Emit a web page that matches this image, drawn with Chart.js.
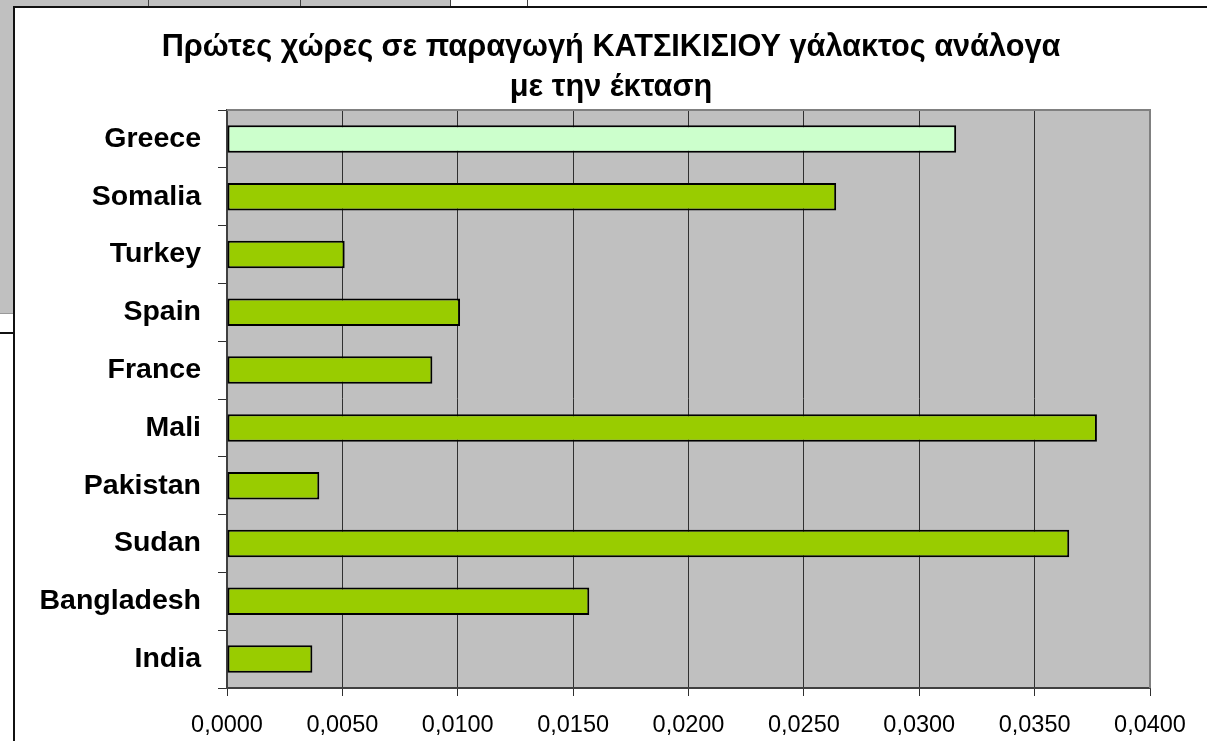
<!DOCTYPE html>
<html>
<head>
<meta charset="utf-8">
<script src="https://cdn.jsdelivr.net/npm/chart.js@4"></script>
<style>
  html, body { margin: 0; padding: 0; background: #ffffff; }
  #wrap { width: 1207px; height: 741px; position: relative; }
</style>
</head>
<body>
<div id="wrap"><canvas id="c" width="1207" height="741"></canvas></div>
<script>
// ---- data ----
const titleLines = ["Πρώτες χώρες σε παραγωγή ΚΑΤΣΙΚΙΣΙΟΥ γάλακτος ανάλογα", "με την έκταση"];
const categories = ["Greece", "Somalia", "Turkey", "Spain", "France", "Mali", "Pakistan", "Sudan", "Bangladesh", "India"];
const values = [0.0316, 0.0264, 0.0051, 0.0101, 0.0089, 0.0377, 0.0040, 0.0365, 0.0157, 0.0037];
const highlighted = "Greece";
const xMin = 0, xMax = 0.04, xStep = 0.005;

// ---- styles ----
const barColors = categories.map(c => c === highlighted ? "#CCFFCC" : "#99CC00");

const sheetBackground = {
  id: "sheetBackground",
  beforeDraw(chart) {
    const ctx = chart.ctx;
    ctx.save();
    ctx.fillStyle = "#ffffff";
    ctx.fillRect(0, 0, chart.width, chart.height);
    // spreadsheet cells peeking around the chart object
    ctx.fillStyle = "#C0C0C0";
    ctx.fillRect(0, 0, 451, 6);
    ctx.fillRect(0, 0, 13, 313);
    ctx.fillStyle = "#999999";
    ctx.fillRect(0, 313, 13, 1);
    ctx.fillStyle = "#404040";
    ctx.fillRect(148, 0, 1, 6);
    ctx.fillRect(300, 0, 1, 6);
    ctx.fillRect(450, 0, 1, 6);
    ctx.fillRect(527, 0, 1, 6);
    ctx.fillStyle = "#111111";
    ctx.fillRect(0, 332, 13, 2);
    // chart object frame
    ctx.fillRect(13, 6, 2, chart.height - 6);
    ctx.fillRect(13, 6, chart.width - 13, 2);
    // plot area background
    const a = chart.chartArea;
    ctx.fillStyle = "#C0C0C0";
    ctx.fillRect(a.left, a.top, a.right - a.left, a.bottom - a.top);
    ctx.restore();
  },
  beforeDatasetsDraw(chart) {
    const a = chart.chartArea;
    const ctx = chart.ctx;
    ctx.save();
    ctx.strokeStyle = "#808080";
    ctx.lineWidth = 2;
    ctx.beginPath();
    ctx.moveTo(a.left, a.top);
    ctx.lineTo(a.right, a.top);
    ctx.lineTo(a.right, a.bottom);
    ctx.stroke();
    ctx.restore();
  }
};

new Chart(document.getElementById("c"), {
  type: "bar",
  data: {
    labels: categories,
    datasets: [{
      data: values,
      backgroundColor: barColors,
      borderColor: "#000000",
      borderWidth: 2,
      borderSkipped: false,
      categoryPercentage: 1.0,
      barPercentage: 0.476
    }]
  },
  options: {
    indexAxis: "y",
    responsive: false,
    animation: false,
    devicePixelRatio: 1,
    layout: { padding: { left: 15, right: 0, top: 0, bottom: 0 } },
    plugins: {
      legend: { display: false },
      tooltip: { enabled: false },
      title: {
        display: true,
        text: titleLines,
        color: "#000000",
        font: { family: "'Liberation Sans', Arial, sans-serif", size: 30.7, weight: "bold", lineHeight: "40px" },
        padding: { top: 28, bottom: 2 }
      }
    },
    scales: {
      x: {
        type: "linear",
        position: "bottom",
        min: xMin,
        max: xMax,
        afterFit(scale) { scale.height = 53; },
        ticks: {
          stepSize: xStep,
          color: "#000000",
          padding: 15,
          font: { family: "'Liberation Sans', Arial, sans-serif", size: 23.5 },
          callback: v => v.toFixed(4).replace(".", ",")
        },
        grid: {
          color: "#303030",
          lineWidth: 1,
          tickLength: 8,
          drawTicks: true
        },
        border: { display: true, color: "#404040", width: 2 }
      },
      y: {
        type: "category",
        offset: true,
        afterFit(scale) { scale.width = 212; },
        ticks: {
          color: "#000000",
          padding: 17,
          font: { family: "'Liberation Sans', Arial, sans-serif", size: 28.5, weight: "bold" }
        },
        grid: {
          offset: true,
          drawOnChartArea: false,
          drawTicks: true,
          tickLength: 9,
          color: "#303030",
          lineWidth: 1
        },
        border: { display: true, color: "#404040", width: 2 }
      },
      ySpacer: {
        type: "category",
        position: "right",
        display: true,
        afterFit(scale) { scale.width = 57; },
        ticks: { display: false },
        grid: { display: false, drawTicks: false },
        border: { display: false }
      }
    }
  },
  plugins: [sheetBackground]
});
</script>
</body>
</html>
